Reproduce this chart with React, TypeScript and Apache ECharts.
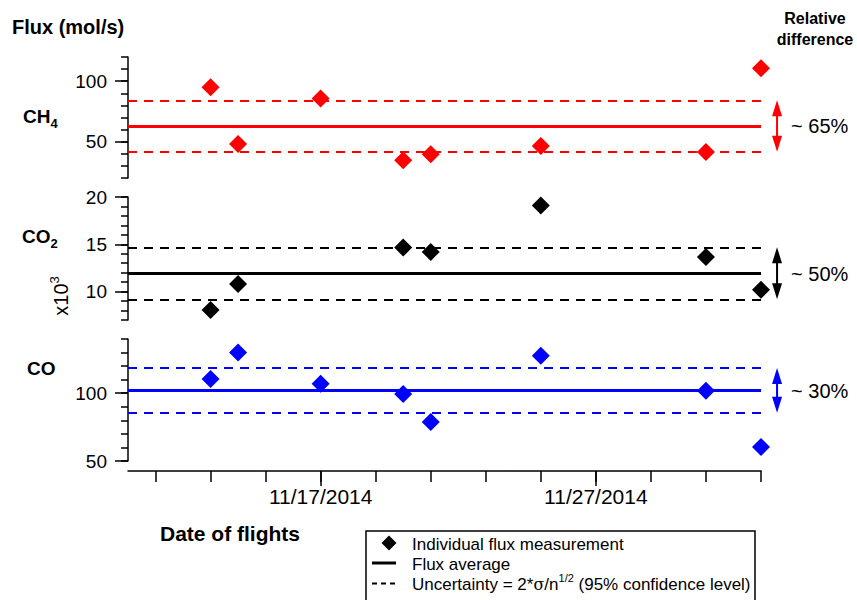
import React, { useEffect, useRef } from 'react';
import * as echarts from 'echarts';

// ---- data ----
const flightDates = ['2014-11-13', '2014-11-14', '2014-11-17', '2014-11-20', '2014-11-21', '2014-11-25', '2014-12-01', '2014-12-03'];
const ch4Flux = [95, 48, 85.6, 34.7, 39.7, 46.4, 41.4, 110.8];
const co2Flux = [8.05, 10.8, null, 14.65, 14.2, 19.1, 13.66, 10.2]; // x10^3
const coFlux = [110.4, 130.1, 106.9, 99.5, 78.7, 127.7, 101.9, 60.4];

const gasNames = ['CH4', 'CO2', 'CO'];
const gasColors = ['#ff0000', '#000000', '#0000ff'];
const fluxAverages = [62.8, 11.9, 101.9];
const upperBounds = [84.2, 14.68, 118.6];
const lowerBounds = [41.7, 9.19, 85.6];
const relativeDiffLabels = ['~ 65%', '~ 50%', '~ 30%'];

const yMins = [20, 7, 50];
const yMaxs = [120, 20, 140];
const yMinorSteps = [10, 1, 10];
const yLabelValues = [[50, 100], [10, 15, 20], [50, 100]];

const axisStartDate = '2014-11-10';
const axisEndDate = '2014-12-03';
const arrowDate = '2014-12-03T14:00:00Z';
const tickDates = ['2014-11-11', '2014-11-13', '2014-11-15', '2014-11-17', '2014-11-19', '2014-11-21', '2014-11-23', '2014-11-25', '2014-11-27', '2014-11-29', '2014-12-01', '2014-12-03'];
const labelDates = ['2014-11-17', '2014-11-27'];

const FONT = "'Liberation Sans', Arial, Helvetica, sans-serif";
const DAY0 = Date.parse('2014-10-31');
const dayNum = (d: string) => (Date.parse(d.length === 10 ? d + 'T00:00:00Z' : d) - DAY0) / 86400000;
const fmtDay = (v: number) => {
  const dt = new Date(DAY0 + Math.round(v) * 86400000);
  return `${dt.getUTCMonth() + 1}/${dt.getUTCDate()}/${dt.getUTCFullYear()}`;
};

const seriesValues = [ch4Flux, co2Flux, coFlux];

export default function App() {
  const ref = useRef<HTMLDivElement>(null);
  useEffect(() => {
    if (!ref.current) return;
    const chart = echarts.init(ref.current, undefined, { renderer: 'svg' });
    const grids = [
      { left: 128, right: 96, top: 57, height: 121 },
      { left: 128, right: 96, top: 197, height: 123 },
      { left: 128, right: 96, top: 339, height: 122 },
    ];
    const xMin = dayNum(axisStartDate);
    const xMax = dayNum(axisEndDate);
    const xAxes: any[] = [0, 1, 2].map((i) => ({
      type: 'value', gridIndex: i, min: xMin, max: xMax, show: i === 2, position: 'bottom',
      offset: 10,
      splitLine: { show: false },
      axisLine: { show: true, lineStyle: { color: '#000', width: 1.5 } },
      axisTick: { show: true, inside: false, length: 11, customValues: tickDates.map(dayNum), lineStyle: { color: '#000', width: 1.5 } },
      axisLabel: { show: false },
    }));
    xAxes.push({
      type: 'value', gridIndex: 2, min: xMin, max: xMax, position: 'bottom', offset: 10,
      splitLine: { show: false },
      axisLine: { show: false },
      axisTick: { show: true, length: 15, customValues: labelDates.map(dayNum), lineStyle: { color: '#000', width: 1.5 } },
      axisLabel: {
        show: true, customValues: labelDates.map(dayNum), formatter: (v: number) => fmtDay(v),
        fontSize: 21, fontFamily: FONT, color: '#000', margin: 15,
      },
    });
    const yAxes: any[] = [];
    [0, 1, 2].forEach((i) => {
      yAxes.push({
        type: 'value', gridIndex: i, min: yMins[i], max: yMaxs[i], position: 'left',
        splitLine: { show: false },
        axisLine: { show: true, lineStyle: { color: '#000', width: 1.5 } },
        axisTick: { show: true, length: 13, customValues: yLabelValues[i], lineStyle: { color: '#000', width: 1.5 } },
        axisLabel: { show: true, customValues: yLabelValues[i], fontSize: 19, fontFamily: FONT, color: '#000', margin: 21 },
      });
      yAxes.push({
        type: 'value', gridIndex: i, min: yMins[i], max: yMaxs[i], interval: yMinorSteps[i], position: 'left',
        splitLine: { show: false },
        axisLine: { show: false },
        axisTick: { show: true, length: 7, lineStyle: { color: '#000', width: 1.5 } },
        axisLabel: { show: false },
      });
    });

    const series: any[] = [];
    [0, 1, 2].forEach((i) => {
      const color = gasColors[i];
      series.push({
        type: 'scatter', name: gasNames[i], xAxisIndex: i, yAxisIndex: 2 * i, clip: false,
        symbol: 'diamond', symbolSize: 18, itemStyle: { color, opacity: 1 },
        data: flightDates.map((d, k) => [dayNum(d), seriesValues[i][k]]).filter((p) => p[1] != null),
        z: 5,
        markLine: {
          silent: true, symbol: ['none', 'none'], label: { show: false }, animation: false,
          data: [
            { yAxis: fluxAverages[i], lineStyle: { color, width: 3, type: 'solid', opacity: 1 } },
            { yAxis: upperBounds[i], lineStyle: { color, width: 2.2, type: [9, 7], opacity: 1 } },
            { yAxis: lowerBounds[i], lineStyle: { color, width: 2.2, type: [9, 7], opacity: 1 } },
          ],
        },
      });
      series.push({
        type: 'custom', xAxisIndex: i, yAxisIndex: 2 * i, clip: false, silent: true,
        data: [[dayNum(arrowDate), lowerBounds[i], upperBounds[i], fluxAverages[i]]],
        renderItem: (params: any, api: any) => {
          const top = api.coord([api.value(0), api.value(2)]);
          const bot = api.coord([api.value(0), api.value(1)]);
          const mid = api.coord([api.value(0), api.value(3)]);
          const x = top[0];
          const hl = 16, hw = 5;
          return {
            type: 'group',
            children: [
              { type: 'line', shape: { x1: x, y1: top[1] + hl - 2, x2: x, y2: bot[1] - hl + 2 }, style: { stroke: color, lineWidth: 2 } },
              { type: 'polygon', shape: { points: [[x, top[1]], [x - hw, top[1] + hl], [x + hw, top[1] + hl]] }, style: { fill: color } },
              { type: 'polygon', shape: { points: [[x, bot[1]], [x - hw, bot[1] - hl], [x + hw, bot[1] - hl]] }, style: { fill: color } },
              { type: 'text', x: x + 14, y: mid[1], style: { text: relativeDiffLabels[i], fontSize: 20, fontFamily: FONT, fill: '#000', verticalAlign: 'middle', align: 'left' } },
            ],
          };
        },
      });
    });

    const boldRich = (big: number, small: number) => ({
      a: { fontSize: big, fontWeight: 'bold', fontFamily: FONT, fill: '#000', lineHeight: 28 },
      b: { fontSize: small, fontWeight: 'bold', fontFamily: FONT, fill: '#000', lineHeight: small, verticalAlign: 'bottom' },
    });

    const graphic: any[] = [
      { type: 'text', left: 12, top: 17, style: { text: 'Flux (mol/s)', fontSize: 20, fontWeight: 'bold', fontFamily: FONT, fill: '#000' } },
      { type: 'text', x: 815, y: 8, style: { text: 'Relative\ndifference', fontSize: 16, fontWeight: 'bold', fontFamily: FONT, fill: '#000', align: 'center', verticalAlign: 'top', lineHeight: 21 } },
      { type: 'text', x: 23, y: 116, style: { text: '{a|CH}{b|4}', verticalAlign: 'middle', rich: boldRich(19, 13) } },
      { type: 'text', x: 22, y: 236, style: { text: '{a|CO}{b|2}', verticalAlign: 'middle', rich: boldRich(19, 13) } },
      { type: 'text', x: 27, y: 368, style: { text: '{a|CO}', verticalAlign: 'middle', rich: boldRich(19, 13) } },
      {
        type: 'text', x: 61, y: 296, rotation: Math.PI / 2,
        style: {
          text: '{a|x10}{s|3}', align: 'center', verticalAlign: 'middle',
          rich: {
            a: { fontSize: 20, fontFamily: FONT, fill: '#000', lineHeight: 26 },
            s: { fontSize: 13, fontFamily: FONT, fill: '#000', lineHeight: 13, verticalAlign: 'top' },
          },
        },
      },
      { type: 'text', left: 160, top: 523, style: { text: 'Date of flights', fontSize: 21, fontWeight: 'bold', fontFamily: FONT, fill: '#000' } },
      // legend
      { type: 'rect', shape: { x: 366, y: 531, width: 389, height: 80 }, style: { fill: '#fff', stroke: '#000', lineWidth: 1.5 } },
      { type: 'polygon', shape: { points: [[389, 535.5], [396.5, 543], [389, 550.5], [381.5, 543]] }, style: { fill: '#000' } },
      { type: 'line', shape: { x1: 372, y1: 563, x2: 396, y2: 563 }, style: { stroke: '#000', lineWidth: 3 } },
      { type: 'line', shape: { x1: 372, y1: 583.5, x2: 397, y2: 583.5 }, style: { stroke: '#000', lineWidth: 2, lineDash: [5, 4] } },
      { type: 'text', x: 412, y: 544, style: { text: 'Individual flux measurement', fontSize: 17, fontFamily: FONT, fill: '#000', verticalAlign: 'middle' } },
      { type: 'text', x: 412, y: 564, style: { text: 'Flux average', fontSize: 17, fontFamily: FONT, fill: '#000', verticalAlign: 'middle' } },
      {
        type: 'text', x: 412, y: 584,
        style: {
          text: '{t|Uncertainty = 2*}{g|σ}{t|/n}{s|1/2}{t| (95% confidence level)}', verticalAlign: 'middle',
          rich: {
            t: { fontSize: 17, fontFamily: FONT, fill: '#000', lineHeight: 24 },
            g: { fontSize: 16, fontFamily: "'DejaVu Serif', serif", fill: '#000', lineHeight: 24 },
            s: { fontSize: 11, fontFamily: FONT, fill: '#000', lineHeight: 11, verticalAlign: 'top' },
          },
        },
      },
    ];

    chart.setOption({
      animation: false,
      backgroundColor: '#fff',
      grid: grids,
      xAxis: xAxes,
      yAxis: yAxes,
      series,
      graphic,
    });
    return () => chart.dispose();
  }, []);
  return <div ref={ref} style={{ position: 'fixed', left: 0, top: 0, width: 857, height: 600 }} />;
}
